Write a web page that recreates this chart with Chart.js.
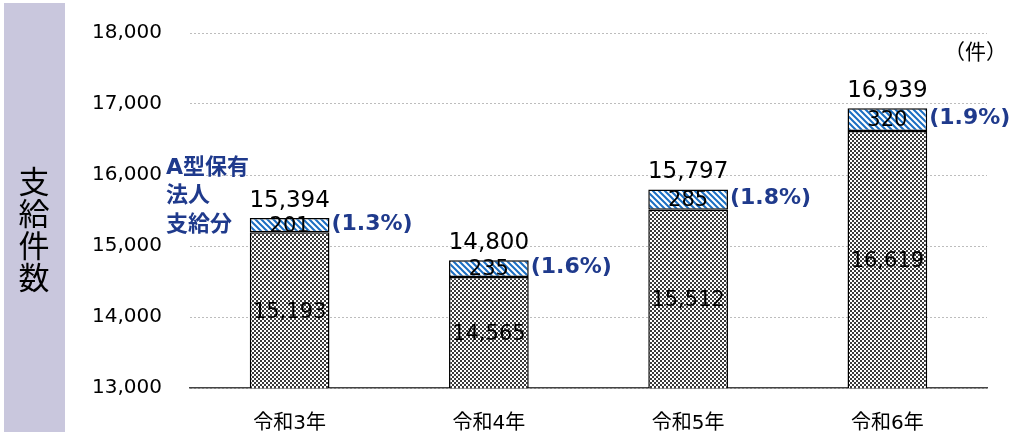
<!DOCTYPE html>
<html>
<head>
<meta charset="utf-8">
<script src="https://cdn.jsdelivr.net/npm/chart.js"></script>
<style>
	html, body { margin: 0; padding: 0; background: #fff; }
	#wrap { position: relative; width: 1021px; height: 433px; }
</style>
</head>
<body>
<div id="wrap"><canvas id="c" width="1021" height="433"></canvas></div>
<script>
// データ
var categories = ['令和3年', '令和4年', '令和5年', '令和6年'];
var baseCounts = [15193, 14565, 15512, 16619];
var aTypeCounts = [201, 235, 285, 320];
var totalCounts = [15394, 14800, 15797, 16939];
var shareLabels = ['(1.3%)', '(1.6%)', '(1.8%)', '(1.9%)'];
var yTicks = [13000, 14000, 15000, 16000, 17000, 18000];

var FONT = '"DejaVu Sans", "Noto Sans CJK JP", sans-serif';
var NAVY = '#1f3a8c';

var cv = document.getElementById('c');
var ctx = cv.getContext('2d');

// 網掛けパターン
function makePattern(w, h, draw){
	var t = document.createElement('canvas');
	t.width = w; t.height = h;
	draw(t.getContext('2d'));
	return ctx.createPattern(t, 'repeat');
}
var checker = makePattern(4, 4, function(g){
	g.fillStyle = '#fff'; g.fillRect(0, 0, 4, 4);
	g.fillStyle = '#3a3a3a';
	g.fillRect(0, 0, 2, 2);
	g.fillRect(2, 2, 2, 2);
});
var stripes = makePattern(6, 6, function(g){
	g.fillStyle = '#fff'; g.fillRect(0, 0, 6, 6);
	g.strokeStyle = '#1b6ec2';
	g.lineWidth = 2;
	g.beginPath();
	g.moveTo(-1, -1); g.lineTo(7, 7);
	g.moveTo(-4, 2); g.lineTo(4, 10);
	g.moveTo(2, -4); g.lineTo(10, 4);
	g.stroke();
});

function fmt(v){ return v.toLocaleString('en-US'); }

var decor = {
	id: 'decor',
	beforeDraw: function(chart){
		var c = chart.ctx;
		c.save();
		c.fillStyle = '#c9c7dd';
		c.fillRect(4, 3, 61, 429);
		c.fillStyle = '#000';
		c.font = '31px "Noto Sans CJK JP"';
		c.textAlign = 'center';
		c.textBaseline = 'middle';
		'支給件数'.split('').forEach(function(ch, i){
			c.fillText(ch, 34, 181 + i * 32);
		});
		c.restore();
	},
	afterDatasetsDraw: function(chart){
		var c = chart.ctx;
		var m0 = chart.getDatasetMeta(0), m1 = chart.getDatasetMeta(1);
		c.save();
		c.textAlign = 'center';
		c.textBaseline = 'middle';
		for (var i = 0; i < categories.length; i++){
			var b0 = m0.data[i], b1 = m1.data[i];
			var bottom = chart.chartArea.bottom;
			c.fillStyle = '#000';
			c.font = '21px ' + FONT;
			c.fillText(fmt(baseCounts[i]), b0.x, (b0.y + bottom) / 2 + 2);
			c.fillText(fmt(aTypeCounts[i]), b1.x, (b1.y + b1.base) / 2 + 1);
			c.font = '23px ' + FONT;
			c.textBaseline = 'alphabetic';
			c.fillText(fmt(totalCounts[i]), b1.x, b1.y - 11);
			c.textBaseline = 'middle';
			c.fillStyle = NAVY;
			c.font = 'bold 22px ' + FONT;
			c.textAlign = 'left';
			c.fillText(shareLabels[i], b1.x + b1.width / 2 + 2, (b1.y + b1.base) / 2 - 1);
			c.textAlign = 'center';
		}
		// 注記
		c.fillStyle = NAVY;
		c.font = 'bold 22px ' + FONT;
		c.textAlign = 'left';
		['A型保有', '法人', '支給分'].forEach(function(s, i){
			c.fillText(s, 166, 168 + i * 28.5);
		});
		c.fillStyle = '#000';
		c.font = '21px "Noto Sans CJK JP"';
		c.fillText('（件）', 944, 51);
		c.restore();
	}
};

new Chart(cv, {
	type: 'bar',
	data: {
		labels: categories,
		datasets: [
			{ data: baseCounts, backgroundColor: checker, borderColor: '#000', borderWidth: 1.5, borderSkipped: false },
			{ data: aTypeCounts, backgroundColor: stripes, borderColor: '#000', borderWidth: 1.5, borderSkipped: false }
		]
	},
	plugins: [decor],
	options: {
		responsive: false,
		animation: false,
		devicePixelRatio: 1,
		layout: { padding: { left: 65, top: 33, right: 34, bottom: 0 } },
		plugins: { legend: { display: false }, tooltip: { enabled: false } },
		datasets: { bar: { barPercentage: 0.4, categoryPercentage: 1 } },
		scales: {
			x: {
				stacked: true,
				grid: { display: false, drawTicks: false },
				border: { color: '#444', width: 1.5 },
				ticks: { color: '#000', font: { family: FONT, size: 20 }, padding: 24 },
				afterFit: function(s){ s.height = 45; }
			},
			y: {
				stacked: true,
				min: yTicks[0],
				max: yTicks[yTicks.length - 1],
				afterBuildTicks: function(s){ s.ticks = yTicks.map(function(v){ return { value: v }; }); },
				grid: { color: '#bdbdbd', lineWidth: 1, drawTicks: false },
				border: { display: false, dash: [2, 2] },
				ticks: { color: '#000', font: { family: FONT, size: 20 }, padding: 28, callback: function(v){ return fmt(v); } },
				afterFit: function(s){ s.width = 125; s.paddingTop = 0; s.paddingBottom = 0; }
			}
		}
	}
});
</script>
</body>
</html>
